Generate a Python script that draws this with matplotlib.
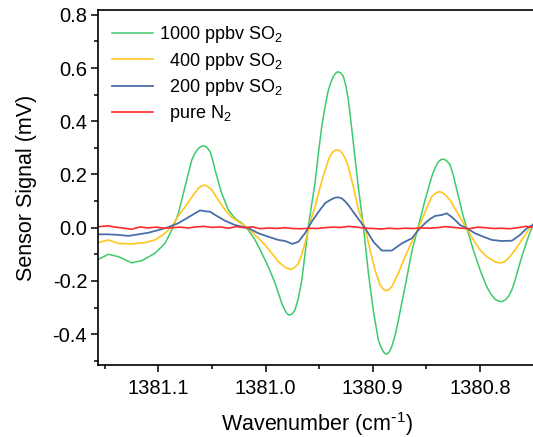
import matplotlib
matplotlib.use("Agg")
import matplotlib.pyplot as plt
from matplotlib.ticker import MultipleLocator, FormatStrFormatter

plt.rcParams['font.family'] = ['Liberation Sans', 'DejaVu Sans']
plt.rcParams['mathtext.default'] = 'regular'

# --- data (wavenumber in cm-1, signal in mV) ---
x_1000 = [1381.1560, 1381.1466, 1381.1373, 1381.1248, 1381.1155, 1381.1031, 1381.0938,
          1381.0875, 1381.0813, 1381.0751, 1381.0688, 1381.0658, 1381.0627, 1381.0602,
          1381.0580, 1381.0550, 1381.0518, 1381.0494, 1381.0471, 1381.0409, 1381.0347,
          1381.0285, 1381.0222, 1381.0160, 1381.0098, 1381.0035, 1380.9974, 1380.9911,
          1380.9849, 1380.9827, 1380.9802, 1380.9787, 1380.9771, 1380.9748, 1380.9725,
          1380.9694, 1380.9662, 1380.9632, 1380.9601, 1380.9569, 1380.9538, 1380.9507,
          1380.9476, 1380.9445, 1380.9414, 1380.9389, 1380.9368, 1380.9347, 1380.9326,
          1380.9300, 1380.9274, 1380.9249, 1380.9228, 1380.9204, 1380.9181, 1380.9134,
          1380.9088, 1380.9041, 1380.8994, 1380.8948, 1380.8923, 1380.8901, 1380.8885,
          1380.8869, 1380.8848, 1380.8823, 1380.8792, 1380.8761, 1380.8699, 1380.8636,
          1380.8575, 1380.8512, 1380.8450, 1380.8419, 1380.8388, 1380.8363, 1380.8341,
          1380.8312, 1380.8279, 1380.8248, 1380.8216, 1380.8155, 1380.8123, 1380.8062,
          1380.7999, 1380.7937, 1380.7897, 1380.7859, 1380.7828, 1380.7797, 1380.7766,
          1380.7735, 1380.7703, 1380.7673, 1380.7610, 1380.7549, 1380.7487]
y_1000 = [-0.119, -0.100, -0.109, -0.132, -0.124, -0.096, -0.059,
          -0.009, 0.054, 0.154, 0.255, 0.280, 0.298, 0.305,
          0.308, 0.303, 0.286, 0.255, 0.217, 0.129, 0.067,
          0.035, 0.017, -0.009, -0.046, -0.096, -0.147, -0.209,
          -0.284, -0.305, -0.322, -0.327, -0.328, -0.322, -0.309,
          -0.265, -0.197, -0.100, 0.004, 0.090, 0.170, 0.280,
          0.380, 0.455, 0.518, 0.548, 0.568, 0.580, 0.586,
          0.582, 0.568, 0.530, 0.480, 0.400, 0.317, 0.150,
          0.005, -0.170, -0.315, -0.422, -0.450, -0.466, -0.473,
          -0.475, -0.468, -0.447, -0.405, -0.347, -0.222, -0.090,
          0.005, 0.105, 0.192, 0.225, 0.248, 0.256, 0.258,
          0.252, 0.236, 0.195, 0.142, 0.041, -0.002, -0.084,
          -0.159, -0.222, -0.250, -0.269, -0.276, -0.278, -0.272,
          -0.259, -0.234, -0.197, -0.109, -0.034, 0.030]

x_400 = [1381.1560, 1381.1466, 1381.1373, 1381.1248, 1381.1124, 1381.1031, 1381.0938,
         1381.0875, 1381.0813, 1381.0751, 1381.0688, 1381.0627, 1381.0597, 1381.0564,
         1381.0534, 1381.0502, 1381.0440, 1381.0378, 1381.0316, 1381.0254, 1381.0191,
         1381.0129, 1381.0066, 1381.0004, 1380.9942, 1380.9880, 1380.9817, 1380.9787,
         1380.9755, 1380.9725, 1380.9693, 1380.9662, 1380.9632, 1380.9569, 1380.9538,
         1380.9476, 1380.9414, 1380.9389, 1380.9368, 1380.9347, 1380.9326, 1380.9300,
         1380.9274, 1380.9249, 1380.9228, 1380.9181, 1380.9134, 1380.9071, 1380.9025,
         1380.8979, 1380.8932, 1380.8904, 1380.8879, 1380.8853, 1380.8823, 1380.8761,
         1380.8699, 1380.8636, 1380.8575, 1380.8512, 1380.8450, 1380.8419, 1380.8388,
         1380.8363, 1380.8341, 1380.8312, 1380.8279, 1380.8216, 1380.8155, 1380.8123,
         1380.8062, 1380.7999, 1380.7937, 1380.7859, 1380.7828, 1380.7797, 1380.7766,
         1380.7735, 1380.7673, 1380.7610, 1380.7549, 1380.7487]
y_400 = [-0.056, -0.046, -0.059, -0.061, -0.056, -0.046, -0.021,
         0.004, 0.045, 0.078, 0.115, 0.148, 0.157, 0.160,
         0.153, 0.142, 0.104, 0.067, 0.039, 0.023, 0.006,
         -0.015, -0.040, -0.065, -0.096, -0.128, -0.149, -0.155,
         -0.156, -0.148, -0.134, -0.100, -0.059, 0.041, 0.080,
         0.175, 0.255, 0.275, 0.286, 0.291, 0.292, 0.287,
         0.273, 0.253, 0.229, 0.154, 0.067, -0.002, -0.084,
         -0.159, -0.215, -0.230, -0.237, -0.234, -0.222, -0.171,
         -0.109, -0.053, -0.002, 0.060, 0.117, 0.128, 0.135,
         0.134, 0.129, 0.118, 0.104, 0.060, 0.017, -0.002,
         -0.046, -0.084, -0.109, -0.128, -0.131, -0.132, -0.126,
         -0.115, -0.084, -0.046, -0.009, 0.020]

x_200 = [1381.1560, 1381.1466, 1381.1373, 1381.1280, 1381.1187, 1381.1093, 1381.1000,
         1381.0907, 1381.0813, 1381.0720, 1381.0658, 1381.0611, 1381.0564, 1381.0518,
         1381.0471, 1381.0378, 1381.0285, 1381.0222, 1381.0160, 1381.0067, 1380.9974,
         1380.9881, 1380.9818, 1380.9750, 1380.9694, 1380.9632, 1380.9569, 1380.9538,
         1380.9492, 1380.9445, 1380.9398, 1380.9352, 1380.9321, 1380.9289, 1380.9258,
         1380.9228, 1380.9149, 1380.9071, 1380.8994, 1380.8916, 1380.8823, 1380.8729,
         1380.8636, 1380.8575, 1380.8512, 1380.8465, 1380.8419, 1380.8356, 1380.8310,
         1380.8248, 1380.8186, 1380.8123, 1380.8046, 1380.7968, 1380.7890, 1380.7797,
         1380.7703, 1380.7626, 1380.7563, 1380.7487]
y_200 = [-0.025, -0.025, -0.027, -0.031, -0.025, -0.019, -0.009,
         0.002, 0.017, 0.039, 0.054, 0.065, 0.062, 0.060,
         0.048, 0.026, 0.010, 0.004, -0.002, -0.021, -0.034,
         -0.046, -0.050, -0.061, -0.053, -0.021, 0.023, 0.041,
         0.067, 0.092, 0.104, 0.113, 0.114, 0.110, 0.099,
         0.085, 0.041, -0.002, -0.053, -0.086, -0.086, -0.059,
         -0.040, -0.009, 0.017, 0.033, 0.044, 0.048, 0.054,
         0.035, 0.010, -0.002, -0.021, -0.034, -0.046, -0.050,
         -0.049, -0.027, -0.002, 0.015]

x_n2 = [1381.155, 1381.147, 1381.140, 1381.132, 1381.125, 1381.117, 1381.110, 1381.102,
        1381.095, 1381.087, 1381.080, 1381.072, 1381.065, 1381.057, 1381.050, 1381.042,
        1381.035, 1381.027, 1381.020, 1381.012, 1381.005, 1380.997, 1380.990, 1380.982,
        1380.975, 1380.967, 1380.960, 1380.952, 1380.945, 1380.937, 1380.930, 1380.922,
        1380.915, 1380.907, 1380.900, 1380.892, 1380.885, 1380.877, 1380.870, 1380.862,
        1380.855, 1380.847, 1380.840, 1380.832, 1380.825, 1380.817, 1380.810, 1380.802,
        1380.795, 1380.787, 1380.780, 1380.772, 1380.765, 1380.757, 1380.749]
y_n2 = [0.004, 0.007, 0.002, -0.002, -0.006, 0.003, -0.001, 0.002,
        -0.002, 0.000, 0.002, -0.001, 0.003, 0.005, 0.001, 0.003,
        -0.002, 0.004, 0.000, 0.003, -0.004, -0.001, -0.003, 0.000,
        -0.003, -0.004, -0.002, -0.003, 0.000, 0.002, 0.001, 0.005,
        0.002, -0.002, -0.003, -0.005, -0.002, -0.004, -0.002, -0.003,
        -0.001, -0.002, 0.000, 0.004, 0.001, -0.002, -0.004, 0.002,
        0.000, -0.003, -0.002, -0.004, 0.000, 0.005, 0.001]

labels = ["1000 ppbv SO$_2$", "  400 ppbv SO$_2$", "  200 ppbv SO$_2$", "  pure N$_2$"]
colors = ["#3dca6c", "#ffc61e", "#4a6ea8", "#ff2a2a"]

# --- figure ---
fig = plt.figure(figsize=(5.33, 4.37), dpi=100)
ax = fig.add_axes([98.3 / 533, 1 - 365 / 437, (535 - 98.3) / 533, 355 / 437])

ax.plot(x_1000, y_1000, color=colors[0], lw=1.1, label=labels[0])
ax.plot(x_400, y_400, color=colors[1], lw=1.2, label=labels[1])
ax.plot(x_200, y_200, color=colors[2], lw=1.3, label=labels[2])
ax.plot(x_n2, y_n2, color=colors[3], lw=1.2, label=labels[3])

ax.set_xlim(1381.156, 1380.7487)
ax.set_ylim(-0.516, 0.818)

ax.xaxis.set_major_locator(MultipleLocator(0.1))
ax.xaxis.set_minor_locator(MultipleLocator(0.05))
ax.yaxis.set_major_locator(MultipleLocator(0.2))
ax.yaxis.set_minor_locator(MultipleLocator(0.1))
ax.xaxis.set_major_formatter(FormatStrFormatter('%.1f'))
ax.yaxis.set_major_formatter(FormatStrFormatter('%.1f'))

ax.tick_params(which='both', direction='out', top=False, right=False, width=1.1, labelsize=14.5)
ax.tick_params(axis='x', which='major', length=5, pad=5)
ax.tick_params(axis='y', which='major', length=5, pad=3)
ax.tick_params(which='minor', length=3)
for s in ax.spines.values():
    s.set_linewidth(1.2)

ax.set_xlabel("Wavenumber (cm$^{\\text{-}1}$)", fontsize=15.5, labelpad=9)
ax.set_ylabel("Sensor Signal (mV)", fontsize=15.5, labelpad=11)

ax.legend(loc='upper left', bbox_to_anchor=(0.0307, 0.960), frameon=False,
          fontsize=13, handlelength=2.3, handletextpad=0.3, labelspacing=0.3,
          borderpad=0, borderaxespad=0)

fig.savefig("out.png", dpi=100)
